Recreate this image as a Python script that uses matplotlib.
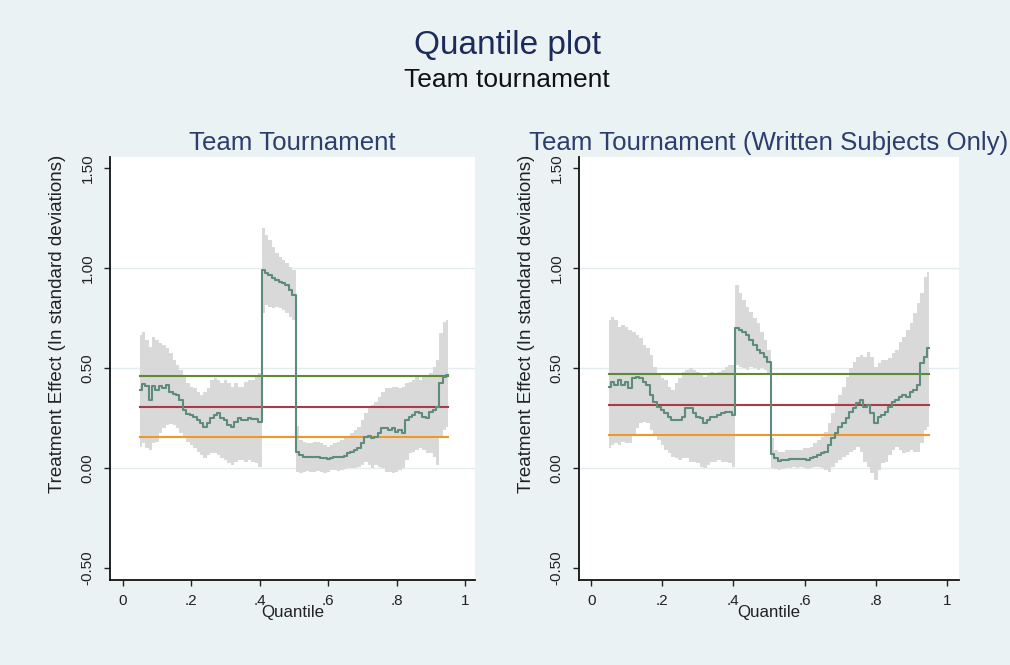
import numpy as np
import matplotlib.pyplot as plt

plt.rcParams['font.family'] = ['Liberation Sans', 'DejaVu Sans']

quantiles = np.round(np.arange(0.05, 0.951, 0.01), 2)

# Team tournament: quantile treatment effect with confidence band
team_est = [0.39, 0.42, 0.41, 0.34, 0.41, 0.39, 0.41, 0.40, 0.415, 0.38,
            0.37, 0.365, 0.34, 0.29, 0.27, 0.265, 0.257, 0.24, 0.223, 0.207,
            0.223, 0.248, 0.265, 0.273, 0.248, 0.24, 0.215, 0.207, 0.232, 0.248,
            0.24, 0.24, 0.248, 0.243, 0.245, 0.232, 0.99, 0.973, 0.965, 0.948,
            0.94, 0.932, 0.923, 0.915, 0.89, 0.865, 0.082, 0.065, 0.053, 0.053,
            0.053, 0.057, 0.057, 0.048, 0.048, 0.043, 0.048, 0.053, 0.053, 0.057,
            0.06, 0.073, 0.082, 0.09, 0.098, 0.123, 0.157, 0.16, 0.148, 0.157,
            0.173, 0.198, 0.198, 0.19, 0.198, 0.182, 0.19, 0.173, 0.24, 0.257,
            0.265, 0.282, 0.273, 0.257, 0.248, 0.282, 0.29, 0.307, 0.423, 0.457,
            0.465]
team_hi = [0.665, 0.68, 0.64, 0.607, 0.657, 0.64, 0.623, 0.615, 0.598, 0.573,
           0.54, 0.515, 0.49, 0.457, 0.423, 0.407, 0.398, 0.382, 0.365, 0.382,
           0.398, 0.44, 0.448, 0.44, 0.423, 0.44, 0.423, 0.407, 0.423, 0.407,
           0.407, 0.432, 0.44, 0.44, 0.457, 0.473, 1.198, 1.165, 1.14, 1.107,
           1.073, 1.057, 1.04, 1.023, 1.007, 0.99, 0.21, 0.14, 0.132, 0.123,
           0.123, 0.132, 0.132, 0.123, 0.115, 0.107, 0.115, 0.123, 0.132, 0.14,
           0.148, 0.157, 0.173, 0.19, 0.207, 0.24, 0.273, 0.298, 0.315, 0.332,
           0.357, 0.382, 0.398, 0.398, 0.407, 0.407, 0.398, 0.407, 0.423, 0.432,
           0.44, 0.457, 0.44, 0.457, 0.465, 0.473, 0.507, 0.54, 0.673, 0.732,
           0.74]
team_lo = [0.107, 0.123, 0.098, 0.09, 0.123, 0.132, 0.173, 0.198, 0.215, 0.22,
           0.215, 0.198, 0.173, 0.148, 0.132, 0.115, 0.098, 0.082, 0.065, 0.048,
           0.065, 0.073, 0.073, 0.065, 0.048, 0.04, 0.023, 0.015, 0.032, 0.04,
           0.04, 0.032, 0.04, 0.032, 0.023, 0.007, 0.773, 0.815, 0.807, 0.798,
           0.807, 0.798, 0.79, 0.773, 0.757, 0.74, -0.018, -0.027, -0.018, -0.013,
           -0.018, -0.018, -0.013, -0.018, -0.023, -0.018, -0.01, -0.01, -0.013, -0.01,
           -0.007, -0.002, -0.002, -0.002, 0.007, 0.015, 0.032, 0.015, -0.002, 0.015,
           0.007, -0.002, -0.018, -0.018, -0.027, -0.018, -0.01, -0.002, 0.04, 0.073,
           0.082, 0.09, 0.098, 0.09, 0.073, 0.073, 0.057, 0.015, 0.157, 0.19,
           0.207]
team_lines = [0.46, 0.307, 0.157]

# Written subjects only
written_est = [0.407, 0.432, 0.415, 0.44, 0.415, 0.432, 0.398, 0.448, 0.457, 0.448,
               0.432, 0.415, 0.365, 0.332, 0.307, 0.29, 0.273, 0.257, 0.24, 0.24,
               0.24, 0.257, 0.298, 0.298, 0.273, 0.257, 0.248, 0.223, 0.24, 0.257,
               0.257, 0.265, 0.273, 0.282, 0.282, 0.265, 0.698, 0.69, 0.682, 0.665,
               0.64, 0.615, 0.59, 0.573, 0.557, 0.532, 0.07, 0.048, 0.037, 0.04,
               0.04, 0.043, 0.043, 0.043, 0.043, 0.043, 0.04, 0.048, 0.057, 0.065,
               0.077, 0.082, 0.115, 0.148, 0.173, 0.207, 0.223, 0.248, 0.282, 0.298,
               0.323, 0.34, 0.307, 0.315, 0.273, 0.223, 0.257, 0.265, 0.282, 0.307,
               0.332, 0.34, 0.357, 0.365, 0.357, 0.382, 0.39, 0.415, 0.523, 0.557,
               0.598]
written_hi = [0.74, 0.757, 0.74, 0.707, 0.715, 0.707, 0.69, 0.682, 0.665, 0.648,
              0.615, 0.598, 0.565, 0.507, 0.473, 0.448, 0.44, 0.407, 0.39, 0.423,
              0.448, 0.482, 0.49, 0.498, 0.49, 0.482, 0.473, 0.457, 0.473, 0.482,
              0.473, 0.482, 0.49, 0.507, 0.515, 0.515, 0.915, 0.873, 0.84, 0.807,
              0.782, 0.748, 0.723, 0.682, 0.64, 0.59, 0.15, 0.09, 0.082, 0.082,
              0.09, 0.09, 0.09, 0.09, 0.09, 0.098, 0.098, 0.107, 0.123, 0.14,
              0.157, 0.182, 0.223, 0.273, 0.323, 0.365, 0.407, 0.457, 0.498, 0.532,
              0.557, 0.565, 0.557, 0.582, 0.557, 0.507, 0.523, 0.54, 0.54, 0.548,
              0.573, 0.59, 0.632, 0.657, 0.69, 0.723, 0.773, 0.823, 0.873, 0.957,
              0.98]
written_lo = [0.098, 0.115, 0.123, 0.115, 0.132, 0.123, 0.123, 0.165, 0.198, 0.223,
              0.232, 0.223, 0.19, 0.165, 0.14, 0.115, 0.09, 0.073, 0.057, 0.048,
              0.04, 0.048, 0.048, 0.032, 0.032, 0.023, 0.007, -0.002, 0.015, 0.032,
              0.032, 0.04, 0.032, 0.032, 0.023, 0.007, 0.515, 0.507, 0.498, 0.49,
              0.507, 0.498, 0.49, 0.498, 0.49, 0.473, -0.002, -0.007, -0.01, -0.007,
              -0.002, -0.002, 0.003, -0.002, 0.003, -0.002, -0.007, -0.002, 0.003, 0.007,
              -0.002, -0.01, -0.018, 0.007, 0.023, 0.04, 0.057, 0.065, 0.082, 0.09,
              0.107, 0.082, 0.032, 0.007, -0.027, -0.06, -0.01, 0.023, 0.032, 0.065,
              0.09, 0.107, 0.09, 0.073, 0.082, 0.09, 0.082, 0.082, 0.123, 0.19,
              0.207]
written_lines = [0.468, 0.316, 0.166]

panel_titles = ['Team Tournament', 'Team Tournament (Written Subjects Only)']
y_ticks = [-0.5, 0.0, 0.5, 1.0, 1.5]
y_ticklabels = ['-0.50', '0.00', '0.50', '1.00', '1.50']
x_ticks = [0, 0.2, 0.4, 0.6, 0.8, 1.0]
x_ticklabels = ['0', '.2', '.4', '.6', '.8', '1']

bg = '#EAF2F3'
line_col = '#5E8C7C'
band_col = '#D9D9D9'
ref_cols = ['#5F8A34', '#A83C48', '#F29724']

fig = plt.figure(figsize=(10.1, 6.65), dpi=100, facecolor=bg)
fig.text(0.502, 0.932, 'Quantile plot', ha='center', va='center',
         fontsize=24, color='#1C2B5A')
fig.text(0.502, 0.880, 'Team tournament', ha='center', va='center',
         fontsize=19, color='#111111')

axes_pos = [[0.1089, 0.1278, 0.3614, 0.636],
            [0.5733, 0.1278, 0.3762, 0.636]]
xlims = [(-0.038, 1.029), (-0.034, 1.034)]
ylabel_x = [-0.145, -0.137]

panels = [(team_est, team_hi, team_lo, team_lines),
          (written_est, written_hi, written_lo, written_lines)]

for i, (est, hi, lo, refs) in enumerate(panels):
    ax = fig.add_axes(axes_pos[i])
    ax.set_facecolor('white')
    for g in [0.0, 0.5, 1.0]:
        ax.axhline(g, color='#E3EDEF', lw=1.0, zorder=0)
    ax.fill_between(quantiles, lo, hi, step='mid', color=band_col, lw=0, zorder=1)
    ax.plot(quantiles, est, color=line_col, lw=1.5, drawstyle='steps-mid', zorder=3)
    for val, col in zip(refs, ref_cols):
        ax.plot([quantiles[0], quantiles[-1]], [val, val], color=col, lw=1.5, zorder=2)

    ax.set_xlim(*xlims[i])
    ax.set_ylim(-0.56, 1.555)
    ax.set_xticks(x_ticks)
    ax.set_xticklabels(x_ticklabels)
    ax.set_yticks(y_ticks)
    ax.set_yticklabels(y_ticklabels, rotation=90, va='center')
    ax.tick_params(axis='both', direction='out', length=4, width=1.0,
                   labelsize=11, color='#222222', labelcolor='#222222')
    ax.tick_params(axis='x', pad=6)
    ax.tick_params(axis='y', pad=7)
    for side in ['top', 'right']:
        ax.spines[side].set_visible(False)
    for side in ['left', 'bottom']:
        ax.spines[side].set_linewidth(1.3)
        ax.spines[side].set_color('#111111')

    ax.set_title(panel_titles[i], fontsize=18.6, color='#2B3E6E', pad=5)
    ax.set_xlabel('Quantile', fontsize=12.2, color='#222222', labelpad=-2)
    ax.set_ylabel('Treatment Effect (In standard deviations)', fontsize=13.5,
                  color='#222222', va='center')
    ax.yaxis.set_label_coords(ylabel_x[i], 0.605)

fig.savefig('out.png', dpi=100, facecolor=bg)
